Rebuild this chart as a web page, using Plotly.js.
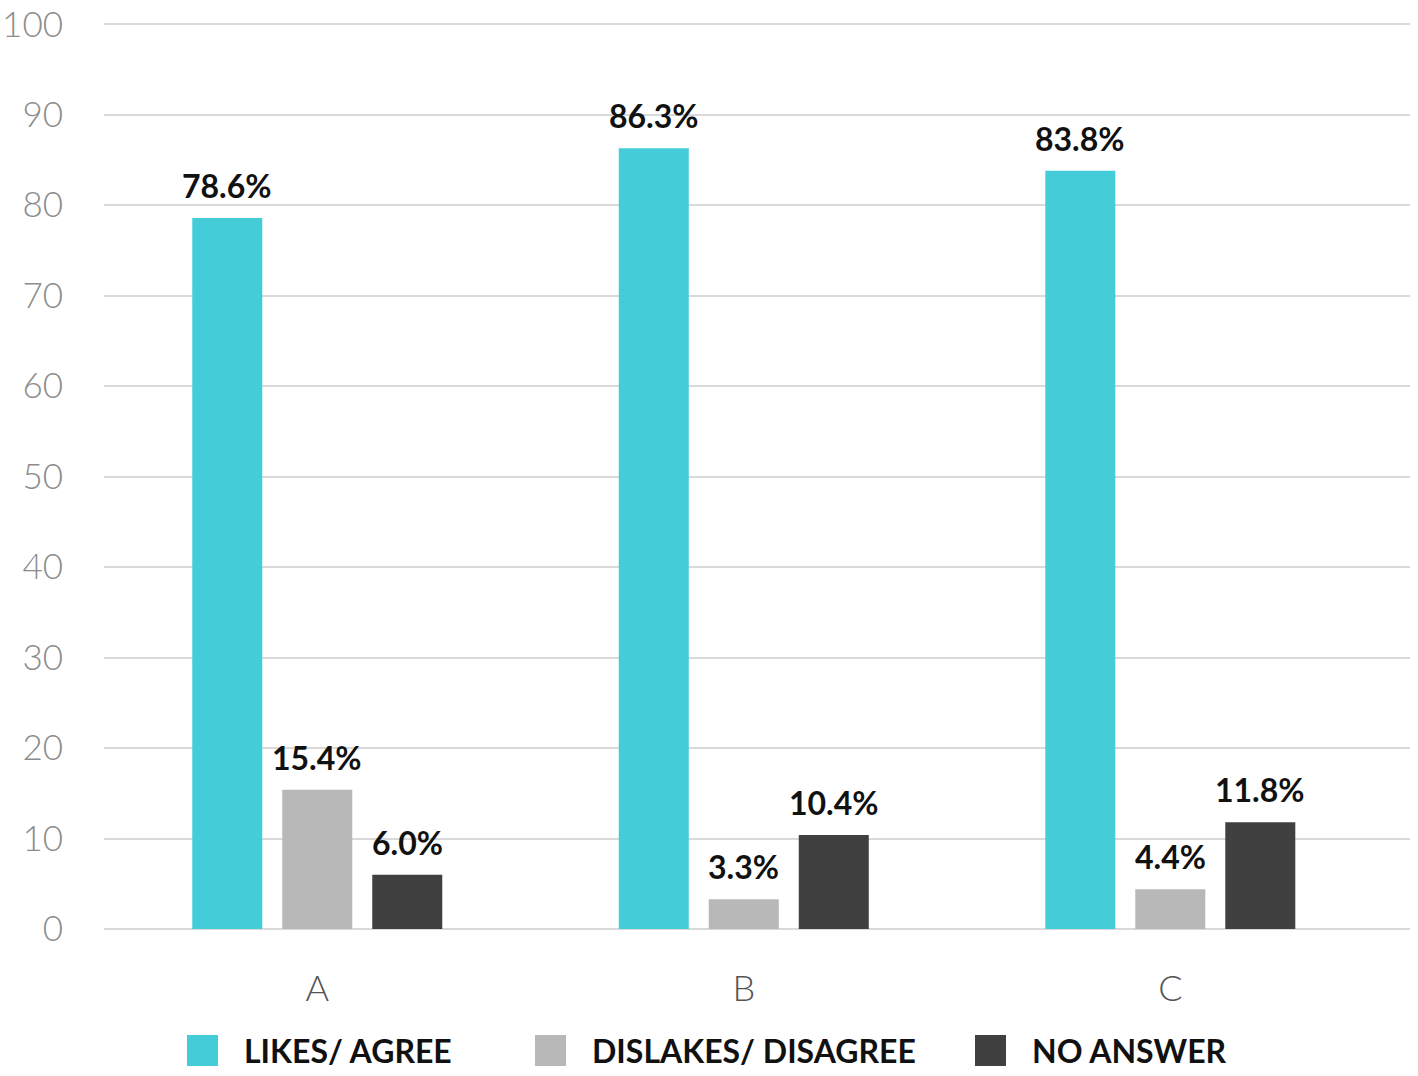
<!DOCTYPE html>
<html>
<head>
<meta charset="utf-8">
<script src="https://cdn.plot.ly/plotly-3.0.1.min.js"></script>
<style>html,body{margin:0;padding:0;background:#fff;}#chart{width:1418px;height:1076px;}</style>
</head>
<body>
<div id="chart"></div>
<script>
const categories = ['A', 'B', 'C'];
const seriesNames = ['LIKES/ AGREE', 'DISLAKES/ DISAGREE', 'NO ANSWER'];
const likes = [78.6, 86.3, 83.8];
const dislikes = [15.4, 3.3, 4.4];
const noAnswer = [6.0, 10.4, 11.8];
const yTicks = [0, 10, 20, 30, 40, 50, 60, 70, 80, 90, 100];

const colors = ['#44CDD9', '#B8B8B8', '#404040'];
const seriesValues = [likes, dislikes, noAnswer];

// plot-area geometry (pixels)
const W = 1418, H = 1076;
const M = {l: 104, r: 8, t: 22, b: 147};
const plotW = W - M.l - M.r, plotH = H - M.t - M.b;
const px2x = p => (p - M.l) / plotW;
const px2y = p => (H - M.b - p) / plotH;

const traces = seriesValues.map((vals, i) => ({
  type: 'bar',
  name: seriesNames[i],
  x: categories,
  y: vals,
  marker: {color: colors[i]},
  showlegend: false,
  hoverinfo: 'x+y'
}));

const slotPx = 90;
const annotations = [];
seriesValues.forEach((vals, i) => {
  vals.forEach((v, j) => {
    annotations.push({
      x: categories[j], y: v, xref: 'x', yref: 'y',
      xshift: (i - 1) * slotPx, yshift: 11,
      yanchor: 'bottom', xanchor: 'center',
      text: v.toFixed(1) + '%', showarrow: false,
      font: {family: 'Lato, "Open Sans", sans-serif', size: 32, color: '#111', weight: 700}
    });
  });
});

// custom legend
const legendSquareX = [187, 535, 975];
const shapes = [];
seriesNames.forEach((name, i) => {
  shapes.push({
    type: 'rect', xref: 'paper', yref: 'paper',
    x0: px2x(legendSquareX[i]), x1: px2x(legendSquareX[i] + 31),
    y0: px2y(1066), y1: px2y(1035),
    fillcolor: colors[i], line: {width: 0}
  });
  annotations.push({
    xref: 'paper', yref: 'paper',
    x: px2x(legendSquareX[i] + 55), y: px2y(1050),
    xanchor: 'left', yanchor: 'middle',
    text: name, showarrow: false,
    font: {family: 'Lato, "Open Sans", sans-serif', size: 32, color: '#111', weight: 700}
  });
});

const layout = {
  width: W, height: H,
  margin: M,
  paper_bgcolor: '#fff', plot_bgcolor: '#fff',
  barmode: 'group',
  bargap: 0.367,
  bargroupgap: 0.222,
  showlegend: false,
  xaxis: {
    type: 'category',
    range: [-0.5, 2.562],
    showgrid: false, zeroline: false, showline: false,
    ticks: '', ticklabelstandoff: 35,
    tickfont: {family: 'Lato, "Open Sans", sans-serif', size: 36, color: '#555', weight: 300}
  },
  yaxis: {
    range: [0, 100.25],
    tickvals: yTicks,
    showgrid: true, gridcolor: '#D9D9D9', gridwidth: 2,
    zeroline: true, zerolinecolor: '#D9D9D9', zerolinewidth: 2,
    showline: false, ticks: '', ticklabelstandoff: 40,
    tickfont: {family: 'Lato, "Open Sans", sans-serif', size: 35, color: '#8C8C8C', weight: 300}
  },
  annotations: annotations,
  shapes: shapes
};

Plotly.newPlot('chart', traces, layout, {displayModeBar: false, staticPlot: true});
</script>
</body>
</html>
